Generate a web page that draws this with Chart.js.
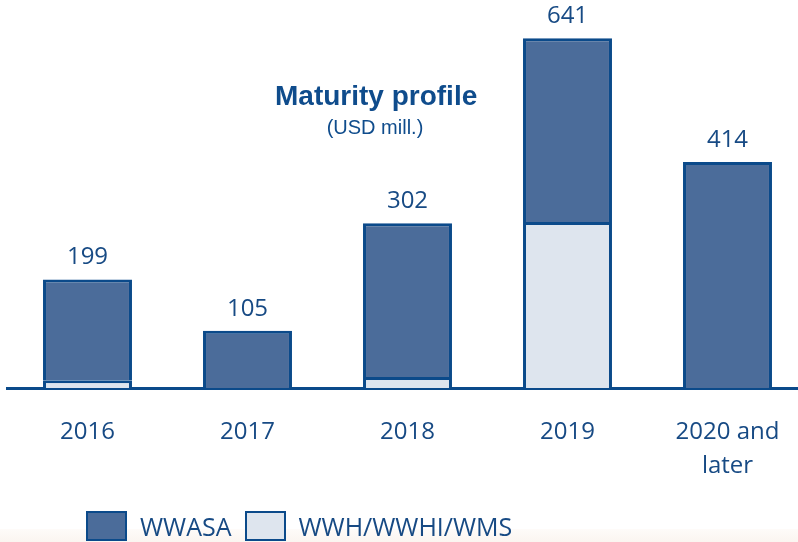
<!DOCTYPE html>
<html>
<head>
<meta charset="utf-8">
<script src="https://cdn.jsdelivr.net/npm/chart.js@4/dist/chart.umd.min.js"></script>
<style>
  html, body { margin: 0; padding: 0; background: #fff; overflow: hidden; }
  #wrap { position: relative; width: 810px; height: 542px; }
  #bottomTint { position: absolute; left: 0; top: 529px; width: 798px; height: 13px;
    background: linear-gradient(#fefbf9, #fbf5f0); }
  #chartBox { position: absolute; left: 0; top: 0; width: 810px; height: 542px; }
  .title { position: absolute; left: 275px; width: 200px; text-align: center; color: #0f4c8c;
    font-family: "Liberation Sans", Arial, sans-serif; white-space: nowrap; }
  #mainTitle { top: 80px; font-size: 28px; font-weight: bold; line-height: 32px; }
  #subTitle { top: 115px; font-size: 20px; line-height: 24px; }
  #legend { position: absolute; top: 511px; left: 86px; display: flex; align-items: center;
    font-family: "Open Sans", sans-serif; font-size: 25px; color: #174a84; }
  #legend span.box { display: inline-block; width: 37px; height: 26px; border: 2px solid #0b4a8a; margin-right: 13px; }
  #legend span.item { display: flex; align-items: center; margin-right: 13px; line-height: 30px; }
</style>
</head>
<body>
<div id="wrap">
  <div id="bottomTint"></div>
  <div id="chartBox"><canvas id="maturityChart"></canvas></div>
  <div class="title" id="mainTitle">Maturity profile</div>
  <div class="title" id="subTitle">(USD mill.)</div>
  <div id="legend"></div>
</div>
<script>
const categories = [["2016"], ["2017"], ["2018"], ["2019"], ["2020 and", "later"]];
const wwasaValues = [185, 105, 282, 337, 414];
const wwhValues = [14, 0, 20, 304, 0];
const totals = wwasaValues.map((v, i) => v + wwhValues[i]);

const borderBlue = "#0b4a8a";
const labelBlue = "#174a84";

const totalLabels = {
  id: "totalLabels",
  afterDatasetsDraw(chart) {
    const ctx = chart.ctx;
    const topMeta = chart.getDatasetMeta(1);
    ctx.save();
    ctx.font = "24px 'Open Sans', sans-serif";
    ctx.fillStyle = labelBlue;
    ctx.textAlign = "center";
    ctx.textBaseline = "middle";
    topMeta.data.forEach((bar, i) => {
      ctx.fillText(totals[i], bar.x, bar.y - 22);
    });
    ctx.restore();
  }
};

let context = document.getElementById("maturityChart").getContext("2d");
let maturityChart = new Chart(context, {
  type: "bar",
  data: {
    labels: categories,
    datasets: [
      {
        label: "WWH/WWHI/WMS",
        data: wwhValues,
        backgroundColor: "#dee5ee",
        borderColor: borderBlue,
        borderWidth: 3,
        borderSkipped: "bottom"
      },
      {
        label: "WWASA",
        data: wwasaValues,
        backgroundColor: "#4b6c9a",
        borderColor: borderBlue,
        borderWidth: 3,
        borderSkipped: "bottom"
      }
    ]
  },
  options: {
    responsive: true,
    maintainAspectRatio: false,
    animation: false,
    layout: { padding: { left: 7.5, right: 2.5, top: 6, bottom: 0 } },
    plugins: {
      legend: { display: false },
      tooltip: { enabled: false }
    },
    datasets: {
      bar: { categoryPercentage: 1, barPercentage: 0.556 }
    },
    scales: {
      x: {
        stacked: true,
        grid: { display: false, drawTicks: false },
        border: { display: true, color: borderBlue, width: 3 },
        ticks: {
          color: labelBlue,
          font: { family: "'Open Sans', sans-serif", size: 24, lineHeight: 1.38 },
          padding: 28,
          maxRotation: 0,
          autoSkip: false
        },
        afterFit(axis) { axis.height = 154; }
      },
      y: {
        stacked: true,
        display: false,
        min: 0,
        max: 700
      }
    }
  },
  plugins: [totalLabels]
});

// legend built from the chart's datasets (WWASA first)
const legendEl = document.getElementById("legend");
[1, 0].forEach(idx => {
  const ds = maturityChart.data.datasets[idx];
  const item = document.createElement("span");
  item.className = "item";
  const box = document.createElement("span");
  box.className = "box";
  box.style.background = ds.backgroundColor;
  item.appendChild(box);
  item.appendChild(document.createTextNode(ds.label));
  legendEl.appendChild(item);
});
</script>
</body>
</html>
